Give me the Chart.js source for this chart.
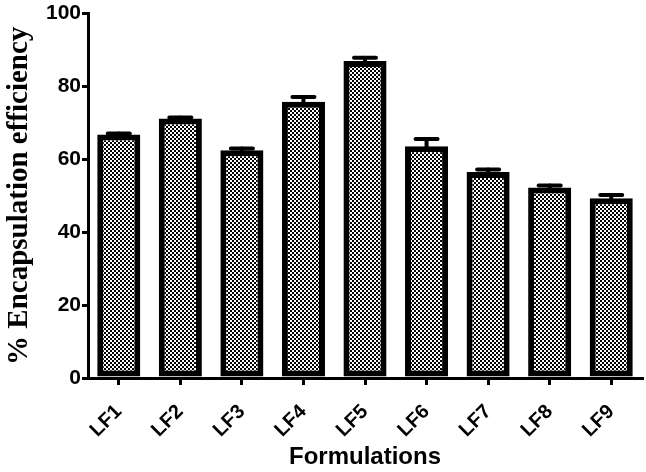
<!DOCTYPE html>
<html>
<head>
<meta charset="utf-8">
<script src="https://cdn.jsdelivr.net/npm/chart.js@4/dist/chart.umd.min.js"></script>
<style>
html,body{margin:0;padding:0;background:#fff;}
canvas{display:block;}
</style>
</head>
<body>
<canvas id="c" width="646" height="472"></canvas>
<script>
const categories = ["LF1","LF2","LF3","LF4","LF5","LF6","LF7","LF8","LF9"];
const efficiency = [66.8, 71.2, 62.5, 75.8, 87.0, 63.6, 56.5, 52.3, 49.3];
const errors = [0.3, 0.3, 0.5, 1.3, 0.9, 2.0, 0.7, 0.5, 0.9];
const yTicks = [0, 20, 40, 60, 80, 100];

function makePattern(ctx){
  const p = document.createElement('canvas');
  p.width = 4; p.height = 4;
  const c = p.getContext('2d');
  c.fillStyle = '#fff'; c.fillRect(0,0,4,4);
  c.fillStyle = '#000';
  c.fillRect(0,0,2,2); c.fillRect(2,2,2,2);
  return ctx.createPattern(p,'repeat');
}

const ctx = document.getElementById('c').getContext('2d');

const errorBarPlugin = {
  id: 'errorBars',
  afterDatasetsDraw(chart){
    const meta = chart.getDatasetMeta(0);
    const y = chart.scales.y;
    const c = chart.ctx;
    c.save();
    c.strokeStyle = '#000';
    c.lineWidth = 4;
    c.lineCap = 'round';
    meta.data.forEach((bar, i) => {
      const x = bar.x;
      const y0 = y.getPixelForValue(efficiency[i]);
      const y1 = y.getPixelForValue(efficiency[i] + errors[i]);
      c.beginPath();
      c.moveTo(x, y0); c.lineTo(x, y1);
      c.stroke();
      c.beginPath();
      c.moveTo(x - 11, y1); c.lineTo(x + 11, y1);
      c.stroke();
    });
    c.restore();
  }
};

new Chart(ctx, {
  type: 'bar',
  data: {
    labels: categories,
    datasets: [{
      data: efficiency,
      backgroundColor: makePattern(ctx),
      borderColor: '#000',
      borderWidth: 6,
      borderSkipped: false,
      categoryPercentage: 0.7,
      barPercentage: 1.0
    }]
  },
  options: {
    responsive: false,
    animation: false,
    layout: { padding: { top: 13, right: 4, left: 0, bottom: 0 } },
    plugins: { legend: { display: false }, tooltip: { enabled: false } },
    scales: {
      x: {
        offset: true,
        grid: { display: true, drawOnChartArea: false, drawTicks: true, tickLength: 7, color: '#000', lineWidth: 3, offset: false },
        border: { display: true, color: '#000', width: 3 },
        ticks: {
          color: '#000',
          font: { family: 'Liberation Sans', weight: 'bold', size: 20 },
          maxRotation: 45, minRotation: 45, padding: 15
        },
        title: {
          display: true, text: 'Formulations', color: '#000',
          font: { family: 'Liberation Sans', weight: 'bold', size: 24 },
          padding: { top: 0, bottom: 0 }
        },
        afterFit(s){ s.height = 94; }
      },
      y: {
        min: 0, max: 100,
        afterBuildTicks(s){ s.ticks = yTicks.map(v => ({ value: v })); },
        grid: { display: true, drawOnChartArea: false, drawTicks: true, tickLength: 6, color: '#000', lineWidth: 3 },
        border: { display: true, color: '#000', width: 3 },
        ticks: {
          color: '#000',
          font: { family: 'Liberation Sans', weight: 'bold', size: 21 },
          padding: 1
        },
        title: {
          display: true, text: '% Encapsulation efficiency', color: '#000',
          font: { family: 'Liberation Serif', weight: 'bold', size: 29 },
          padding: { top: 2, bottom: 0 }
        },
        afterFit(s){ s.width = 88; }
      }
    }
  },
  plugins: [errorBarPlugin]
});
</script>
</body>
</html>
